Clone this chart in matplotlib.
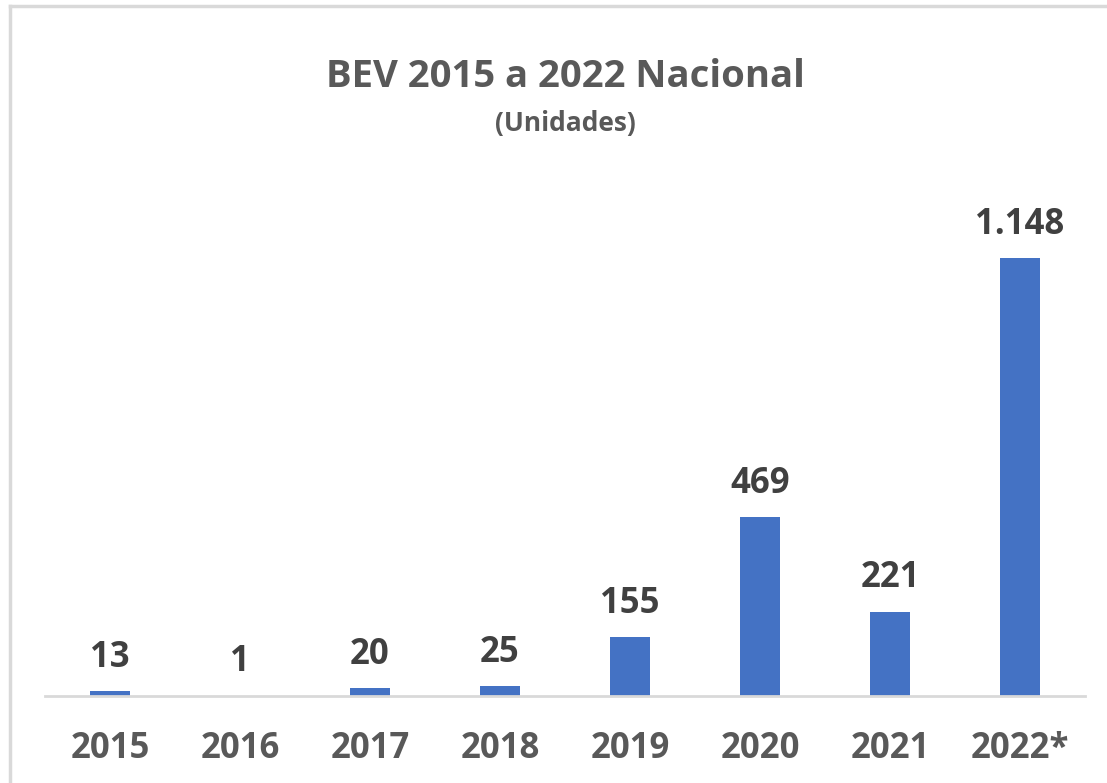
import matplotlib.pyplot as plt
from matplotlib.lines import Line2D

# donnees
anos = ['2015', '2016', '2017', '2018', '2019', '2020', '2021', '2022*']
unidades = [13, 1, 20, 25, 155, 469, 221, 1148]
rotulos = ['13', '1', '20', '25', '155', '469', '221', '1.148']

azul = '#4472C4'
cinza_txt = '#404040'
cinza_linha = '#D9D9D9'

plt.rcParams['font.family'] = ['Open Sans', 'DejaVu Sans']

fig = plt.figure(figsize=(11.07, 7.83), dpi=100)
ax = fig.add_axes([45 / 1107, 87 / 783, 1040 / 1107, 516 / 783])

x = range(len(anos))
ax.bar(x, unidades, width=0.315, color=azul, zorder=2)

for i, (v, r) in enumerate(zip(unidades, rotulos)):
    ax.annotate(r, (i, v), xytext=(0, 11), textcoords='offset points',
                ha='center', va='bottom', fontsize=25, fontweight='bold',
                color=cinza_txt)

ax.set_xlim(-0.5, len(anos) - 0.5)
ax.set_ylim(0, 1352)
ax.set_xticks(list(x))
ax.set_xticklabels(anos, fontsize=25, fontweight='bold', color='#595959')
ax.tick_params(axis='x', length=0, pad=25)
ax.set_yticks([])
for s in ['top', 'right', 'left']:
    ax.spines[s].set_visible(False)
ax.spines['bottom'].set_color(cinza_linha)
ax.spines['bottom'].set_linewidth(2)

fig.text(565 / 1107, 1 - 77 / 783, 'BEV 2015 a 2022 Nacional', ha='center',
         va='center', fontsize=27.5, fontweight='bold', color='#595959')
fig.text(565 / 1107, 1 - 124 / 783, '(Unidades)', ha='center', va='center',
         fontsize=19, fontweight='bold', color='#595959')

# bordure du cadre (haut et gauche)
fig.add_artist(Line2D([10 / 1107, 1], [1 - 6 / 783, 1 - 6 / 783],
                      transform=fig.transFigure, color=cinza_linha, lw=2.5))
fig.add_artist(Line2D([10 / 1107, 10 / 1107], [0, 1 - 6 / 783],
                      transform=fig.transFigure, color=cinza_linha, lw=2.5))

fig.savefig('out.png', dpi=100)
